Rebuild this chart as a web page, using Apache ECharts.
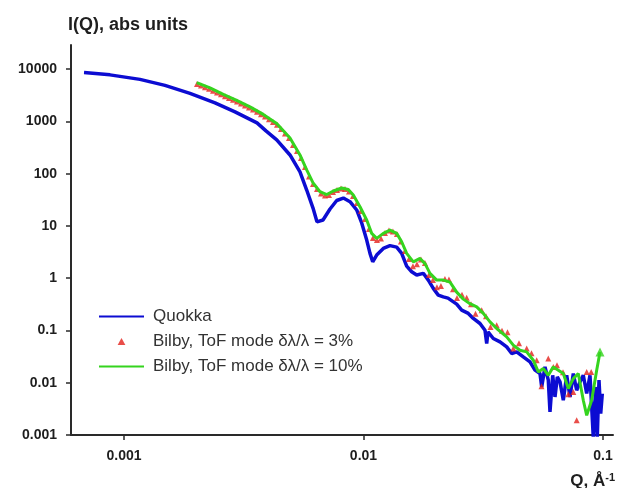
<!DOCTYPE html>
<html><head><meta charset="utf-8">
<script src="https://cdn.jsdelivr.net/npm/echarts@6/dist/echarts.min.js"></script>
<style>html,body{margin:0;padding:0;background:#fff}#c{width:618px;height:488px}</style>
</head><body><div id="c"></div>
<script>
// Quokka
const quokkaQ = [0.000681, 0.000874, 0.001166, 0.001483, 0.001886, 0.002399, 0.002908, 0.003592, 0.003916, 0.004342, 0.004933, 0.005430, 0.005792, 0.006155, 0.006394, 0.006776, 0.007248, 0.007731, 0.008238, 0.008784, 0.009367, 0.009829, 0.010314, 0.010645, 0.010925, 0.011353, 0.012098, 0.012899, 0.013757, 0.014435, 0.015146, 0.015892, 0.016678, 0.017772, 0.018648, 0.019562, 0.020524, 0.021538, 0.022532, 0.024498, 0.025704, 0.027390, 0.028740, 0.030649, 0.032160, 0.032691, 0.033103, 0.034834, 0.037150, 0.039617, 0.041567, 0.043617, 0.046467, 0.049561, 0.052006, 0.054572, 0.055472, 0.057253, 0.059098, 0.060074, 0.061660, 0.063044, 0.064454, 0.066152, 0.068276, 0.070547, 0.072826, 0.075164, 0.077650, 0.080159, 0.082746, 0.085495, 0.088254, 0.089690, 0.091083, 0.093205, 0.094654, 0.096235, 0.097822, 0.099332];
const quokkaI = [8600, 7780, 6380, 4900, 3440, 2260, 1520, 936, 658, 442, 228, 108, 48.7, 22.0, 12.0, 13.0, 21.1, 30.7, 34.2, 29.1, 20.2, 11.4, 5.37, 2.99, 2.06, 2.77, 3.72, 4.21, 3.94, 2.99, 1.70, 1.33, 1.15, 1.24, 0.920, 0.638, 0.475, 0.440, 0.416, 0.319, 0.245, 0.212, 0.170, 0.136, 0.101, 0.0564, 0.094, 0.0703, 0.0605, 0.0485, 0.0363, 0.0389, 0.0312, 0.0250, 0.0174, 0.0150, 0.00831, 0.0201, 0.0112, 0.00276, 0.0139, 0.00535, 0.0129, 0.0104, 0.00462, 0.0139, 0.00535, 0.0150, 0.00718, 0.0104, 0.0139, 0.00621, 0.0139, 0.00344, 0.0009, 0.00831, 0.0009, 0.0112, 0.00257, 0.00621];

// Bilby, ToF mode 3%
const bilby3Q = [0.002018, 0.002097, 0.002179, 0.002265, 0.002353, 0.002446, 0.002541, 0.002641, 0.002744, 0.002852, 0.002964, 0.003080, 0.003201, 0.003326, 0.003457, 0.003592, 0.003733, 0.003879, 0.004031, 0.004189, 0.004354, 0.004524, 0.004702, 0.004886, 0.005077, 0.005276, 0.005483, 0.005698, 0.005921, 0.006153, 0.006395, 0.006645, 0.006906, 0.007176, 0.007458, 0.007750, 0.008054, 0.008369, 0.008697, 0.009038, 0.009392, 0.009760, 0.010143, 0.010540, 0.010953, 0.011383, 0.011829, 0.012292, 0.012774, 0.013275, 0.013795, 0.014336, 0.014898, 0.015481, 0.016088, 0.016719, 0.017374, 0.018055, 0.018763, 0.019498, 0.020263, 0.021057, 0.021882, 0.022740,
  0.023644, 0.024572, 0.025781, 0.026970, 0.028114, 0.029355, 0.031155, 0.032474, 0.033904, 0.035993, 0.037880, 0.039929, 0.042214, 0.044590, 0.048012, 0.050290, 0.052864, 0.055368, 0.059098, 0.062016, 0.064267, 0.068077, 0.071643, 0.075164, 0.077650, 0.085495, 0.089274];
const bilby3I = [5229, 4872, 4522, 4230, 3873, 3577, 3306, 3040, 2808, 2593, 2405, 2212, 2025, 1854, 1690, 1527, 1374, 1241, 1102, 978, 865, 718, 589, 483, 355, 272, 200, 134, 88.4, 63.5, 50.9, 41.8, 38.2, 39.1, 44.6, 48.7, 52.1, 50.9, 45.6, 37.4, 27.5, 19.3, 13.6, 8.72, 5.87, 5.37, 5.74, 7.31, 8.17, 7.81, 7.00, 5.02, 3.31, 2.32, 1.70, 1.86, 2.27, 1.95, 1.15, 0.920, 0.675, 0.706, 0.961, 0.940,
  0.618, 0.416, 0.485, 0.425, 0.319, 0.210, 0.245, 0.188, 0.116, 0.126, 0.0991, 0.0928, 0.0452, 0.0571, 0.0452, 0.0367, 0.0270, 0.00857, 0.0291, 0.0201, 0.0216, 0.0159, 0.00602, 0.00666, 0.00191, 0.0161, 0.0161];

// Bilby, ToF mode 10%
const bilby10Q = [0.002012, 0.002286, 0.002598, 0.002955, 0.003358, 0.003816, 0.004342, 0.004933, 0.005430, 0.005792, 0.006171, 0.006583, 0.007021, 0.007482, 0.008110, 0.008641, 0.009066, 0.009669, 0.010314, 0.010820, 0.011353, 0.012098, 0.012899, 0.013757, 0.014435, 0.015146, 0.016144, 0.017216, 0.018062, 0.018952, 0.020213, 0.021538, 0.022971, 0.024498, 0.026105, 0.027842, 0.029696, 0.031638, 0.033747, 0.035993, 0.039617, 0.042214, 0.045016, 0.048012, 0.051163, 0.053686, 0.056334, 0.059098, 0.062016, 0.065079, 0.068276, 0.071643, 0.075164, 0.078859, 0.082746, 0.085495, 0.089690, 0.094110, 0.097170];
const bilby10I = [5537, 4384, 3290, 2525, 1896, 1362, 916, 483, 228, 118, 65.5, 45.2, 39.9, 46.6, 53.2, 49.8, 39.1, 23.3, 13.0, 7.21, 5.79, 7.21, 8.35, 7.21, 4.98, 2.99, 2.06, 2.39, 1.90, 1.24, 0.920, 0.920, 0.842, 0.542, 0.398, 0.326, 0.283, 0.212, 0.146, 0.109, 0.0754, 0.0523, 0.0419, 0.0389, 0.0270, 0.0161, 0.0187, 0.0139, 0.0201, 0.0174, 0.0150, 0.00774, 0.0120, 0.0150, 0.00462, 0.00238, 0.00462, 0.0174, 0.0389];

const seriesNames = ['Quokka', 'Bilby, ToF mode \u03b4\u03bb/\u03bb = 3%', 'Bilby, ToF mode \u03b4\u03bb/\u03bb = 10%'];
const xTicks = [0.001, 0.01, 0.1];
const xTickLabels = ['0.001', '0.01', '0.1'];
const yTicks = [0.001, 0.01, 0.1, 1, 10, 100, 1000, 10000];
const yTickLabels = ['0.001', '0.01', '0.1', '1', '10', '100', '1000', '10000'];
const yTitle = 'I(Q), abs units';
const xTitle = 'Q, \u00c5';

const FONT = '"Liberation Sans", Arial, Helvetica, sans-serif';
const BLUE = '#0c0cd2', RED = '#e3221b', GREEN = '#35d41e', AXIS = '#2a2a2a', TXT = '#1e1e1e';

function pairs(q, v) { return q.map((x, k) => [x, v[k]]); }
function labelFor(ticks, labels) {
  return function (v) {
    const lv = Math.log10(v);
    for (let k = 0; k < ticks.length; k++) {
      if (Math.abs(Math.log10(ticks[k]) - lv) < 1e-6) return labels[k];
    }
    return '';
  };
}

const chart = echarts.init(document.getElementById('c'), null, { renderer: 'canvas' });
const g10 = pairs(bilby10Q, bilby10I);

chart.setOption({
  animation: false,
  backgroundColor: '#ffffff',
  grid: { left: 71, right: 5, top: 45, bottom: 53, containLabel: false },
  xAxis: {
    type: 'log', logBase: 10, min: 0.0006008, max: 0.1101,
    axisLine: { show: true, onZero: false, lineStyle: { color: AXIS, width: 2 } },
    axisTick: { show: true, length: 5, inside: false, lineStyle: { color: AXIS, width: 1.5 }, customValues: xTicks },
    axisLabel: { customValues: xTicks, margin: 14, color: TXT, fontWeight: 'bold', fontSize: 14, fontFamily: FONT, formatter: labelFor(xTicks, xTickLabels) },
    splitLine: { show: false }, minorTick: { show: false }, minorSplitLine: { show: false }
  },
  yAxis: {
    type: 'log', logBase: 10, min: 0.001, max: 29000,
    axisLine: { show: true, onZero: false, lineStyle: { color: AXIS, width: 2 } },
    axisTick: { show: true, length: 5, inside: false, lineStyle: { color: AXIS, width: 1.5 }, customValues: yTicks },
    axisLabel: { customValues: yTicks, margin: 14, color: TXT, fontWeight: 'bold', fontSize: 14, fontFamily: FONT, formatter: labelFor(yTicks, yTickLabels) },
    splitLine: { show: false }, minorTick: { show: false }, minorSplitLine: { show: false }
  },
  legend: {
    data: [
      { name: seriesNames[0], itemStyle: { opacity: 0 } },
      { name: seriesNames[1], icon: 'path://M5,0L10,9L0,9Z' },
      { name: seriesNames[2], itemStyle: { opacity: 0 } }
    ],
    orient: 'vertical', left: 98, top: 308, padding: 0, symbolKeepAspect: true,
    itemWidth: 45, itemHeight: 7, itemGap: 8, selectedMode: false,
    textStyle: { fontSize: 17, color: '#333', fontFamily: FONT, padding: [0, 0, 0, 4] }
  },
  graphic: [
    { type: 'text', left: 68, top: 16, style: { text: yTitle, font: 'bold 18px ' + FONT, fill: TXT } },
    { type: 'text', right: 3, top: 472, style: {
        text: '{m|' + xTitle + '}{s|-1}',
        rich: { m: { font: 'bold 17px ' + FONT, fill: TXT, lineHeight: 19 }, s: { font: 'bold 11px ' + FONT, fill: TXT, verticalAlign: 'top', lineHeight: 19 } }
    } }
  ],
  series: [
    { name: seriesNames[0], type: 'line', data: pairs(quokkaQ, quokkaI), symbol: 'none', clip: true,
      lineStyle: { color: BLUE, width: 3.5 }, itemStyle: { color: BLUE }, z: 2 },
    { name: seriesNames[1], type: 'scatter', data: pairs(bilby3Q, bilby3I), symbol: 'triangle', symbolSize: 6,
      itemStyle: { color: RED }, z: 3 },
    { name: seriesNames[2], type: 'line', data: g10, symbol: 'none', clip: true,
      lineStyle: { color: GREEN, width: 3 }, itemStyle: { color: GREEN }, z: 4 },
    { name: 'end', type: 'scatter', data: [g10[g10.length - 1]], symbol: 'triangle', symbolSize: 9,
      itemStyle: { color: GREEN }, z: 5 }
  ]
});
</script></body></html>
